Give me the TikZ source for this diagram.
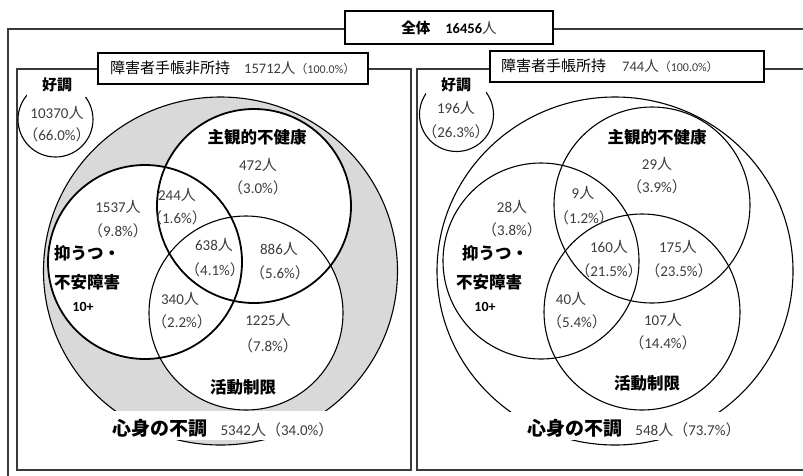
\documentclass[tikz,border=0pt]{standalone}
\usepackage{fontspec}
\newfontfamily\jp{Noto Sans CJK JP}
\newfontfamily\numf{Carlito}
\definecolor{numgray}{HTML}{3C3C3C}
\definecolor{fillgray}{HTML}{D9D9D9}
\definecolor{framegray}{HTML}{3A3A3A}
\newcommand\hito{{\jp 人}}
\newcommand\pct[1]{{\jp\kern-0.3em（}#1{\jp ）\kern-0.3em}}
\tikzset{
  num/.style={font=\numf\fontsize{15}{17}\selectfont, text=numgray, inner sep=0pt},
  lbl/.style={font=\jp\bfseries\fontsize{16.5}{18}\selectfont, inner sep=0pt},
  biglbl/.style={font=\jp\bfseries\fontsize{19}{21}\selectfont, inner sep=0pt},
  kocho/.style={font=\jp\bfseries\fontsize{15}{17}\selectfont, fill=white, minimum width=60pt, inner sep=0pt},
  tenplus/.style={font=\numf\bfseries\fontsize{14}{16}\selectfont, inner sep=0pt},
  frameline/.style={draw=framegray, line width=1.6pt},
  titlebox/.style={draw=black, fill=white, line width=1.5pt},
  venn/.style={draw=black, line width=1.1pt},
  vennthick/.style={draw=black, line width=1.8pt},
  mask/.style={fill=white, draw=none},
}
\begin{document}
\begin{tikzpicture}[x=1pt,y=-1pt]
\useasboundingbox (0,0) rectangle (803,475);
% outer frame
\draw[frameline] (8,480) -- (8,29) -- (810,29);
% panel frames
\draw[frameline] (17,69) rectangle (411,470);
\draw[frameline] (810,69) -- (417,69) -- (417,470) -- (810,470);

% ---------- left panel ----------
\fill[fillgray] (220.5,271) circle[x radius=177pt, y radius=174pt];
\draw[venn] (220.5,271) circle[x radius=177pt, y radius=174pt];
\fill[white] (254,206) circle[radius=97pt];
\fill[white] (145,262) circle[radius=97pt];
\fill[white] (246,313) circle[radius=97pt];
\draw[vennthick] (254,206) circle[radius=97pt];
\draw[vennthick] (145,262) circle[radius=97pt];
\draw[venn] (246,313) circle[radius=97pt];
\fill[mask] (100,411) rectangle (345,440);

\draw[venn] (55.5,119.5) circle[radius=37.5pt];
\node[kocho, minimum height=24pt] (kochoL) at (57,85) {好調};
\node[num] (kL1) at (57,113) {10370\hito};
\node[num] (kL2) at (57,135) {\pct{66.0\%}};

\node[lbl] (shuL) at (257,137) {主観的不健康};
\node[num] (aL1) at (258,165) {472\hito};
\node[num] (aL2) at (258,188) {\pct{3.0\%}};
\node[num] (bL1) at (118,207) {1537\hito};
\node[num] (bL2) at (118,231) {\pct{9.8\%}};
\node[num] (cL1) at (177,195) {244\hito};
\node[num] (cL2) at (177,218) {\pct{1.6\%}};
\node[num] (dL1) at (214,245) {638\hito};
\node[num] (dL2) at (215,270) {\pct{4.1\%}};
\node[num] (eL1) at (279,249) {886\hito};
\node[num] (eL2) at (280,273) {\pct{5.6\%}};
\node[lbl, anchor=west] (yoL1) at (54,253) {抑うつ・};
\node[lbl, anchor=west] (yoL2) at (54,282) {不安障害};
\node[tenplus] (yoL3) at (83,307) {10+};
\node[num] (fL1) at (180,299) {340\hito};
\node[num] (fL2) at (182,322) {\pct{2.2\%}};
\node[num] (gL1) at (268,320) {1225\hito};
\node[num] (gL2) at (268,346) {\pct{7.8\%}};
\node[lbl] (katL) at (243,387) {活動制限};
\node[biglbl] (shinL) at (160,428) {心身の不調};
\node[num] (shinLn) at (277,430) {5342\hito{\jp （}34.0\%{\jp ）}};

% ---------- right panel ----------
\draw[venn] (615,271) circle[x radius=178pt, y radius=174pt];
\draw[venn] (652,205) circle[radius=98pt];
\draw[venn] (541,261) circle[radius=98pt];
\draw[venn] (642,312) circle[radius=98pt];
\fill[mask] (495,412) rectangle (745,440);

\draw[venn] (456.5,114.5) circle[radius=37pt];
\node[kocho, minimum height=18pt] (kochoR) at (456,85) {好調};
\node[num] (kR1) at (456,108) {196\hito};
\node[num] (kR2) at (456,132) {\pct{26.3\%}};

\node[lbl] (shuR) at (657,137) {主観的不健康};
\node[num] (aR1) at (657,164) {29\hito};
\node[num] (aR2) at (657,187) {\pct{3.9\%}};
\node[num] (bR1) at (512,207) {28\hito};
\node[num] (bR2) at (512,230) {\pct{3.8\%}};
\node[num] (cR1) at (583,193) {9\hito};
\node[num] (cR2) at (584,218) {\pct{1.2\%}};
\node[num] (dR1) at (609,247) {160\hito};
\node[num] (dR2) at (609,271) {\pct{21.5\%}};
\node[num] (eR1) at (678,247) {175\hito};
\node[num] (eR2) at (679,271) {\pct{23.5\%}};
\node[lbl, anchor=west] (yoR1) at (462,253) {抑うつ・};
\node[lbl, anchor=west] (yoR2) at (456,282) {不安障害};
\node[tenplus] (yoR3) at (485,307) {10+};
\node[num] (fR1) at (571,299) {40\hito};
\node[num] (fR2) at (577,322) {\pct{5.4\%}};
\node[num] (gR1) at (663,320) {107\hito};
\node[num] (gR2) at (663,343) {\pct{14.4\%}};
\node[lbl] (katR) at (647,383) {活動制限};
\node[biglbl] (shinR) at (575,428) {心身の不調};
\node[num] (shinRn) at (688,430) {548\hito{\jp （}73.7\%{\jp ）}};

% ---------- title boxes ----------
\draw[titlebox] (345,11) rectangle (553,44);
\node[inner sep=0pt] (zentai) at (449,28)
  {{\jp\bfseries\fontsize{14.5}{16}\selectfont 全体}\hspace{15pt}{\numf\bfseries\fontsize{14.5}{16}\selectfont 16456}{\color{numgray}\jp\fontsize{14.5}{16}\selectfont 人}};
\draw[titlebox] (98,53) rectangle (368,84);
\node[inner sep=0pt, anchor=west] (hiL) at (110,68)
  {{\jp\fontsize{15}{17}\selectfont 障害者手帳非所持}\hspace{14pt}{\color{numgray}\numf\fontsize{14.5}{16}\selectfont 15712\hito{\fontsize{12}{14}\selectfont\jp （}{\fontsize{12}{14}\selectfont 100.0\%}{\fontsize{12}{14}\selectfont\jp ）}}};
\draw[titlebox] (490,51) rectangle (764,82);
\node[inner sep=0pt, anchor=west] (hiR) at (501,66)
  {{\jp\fontsize{15}{17}\selectfont 障害者手帳所持}\hspace{16pt}{\color{numgray}\numf\fontsize{14.5}{16}\selectfont 744\hito{\fontsize{12}{14}\selectfont\jp （}{\fontsize{12}{14}\selectfont 100.0\%}{\fontsize{12}{14}\selectfont\jp ）}}};
\end{tikzpicture}
\end{document}
